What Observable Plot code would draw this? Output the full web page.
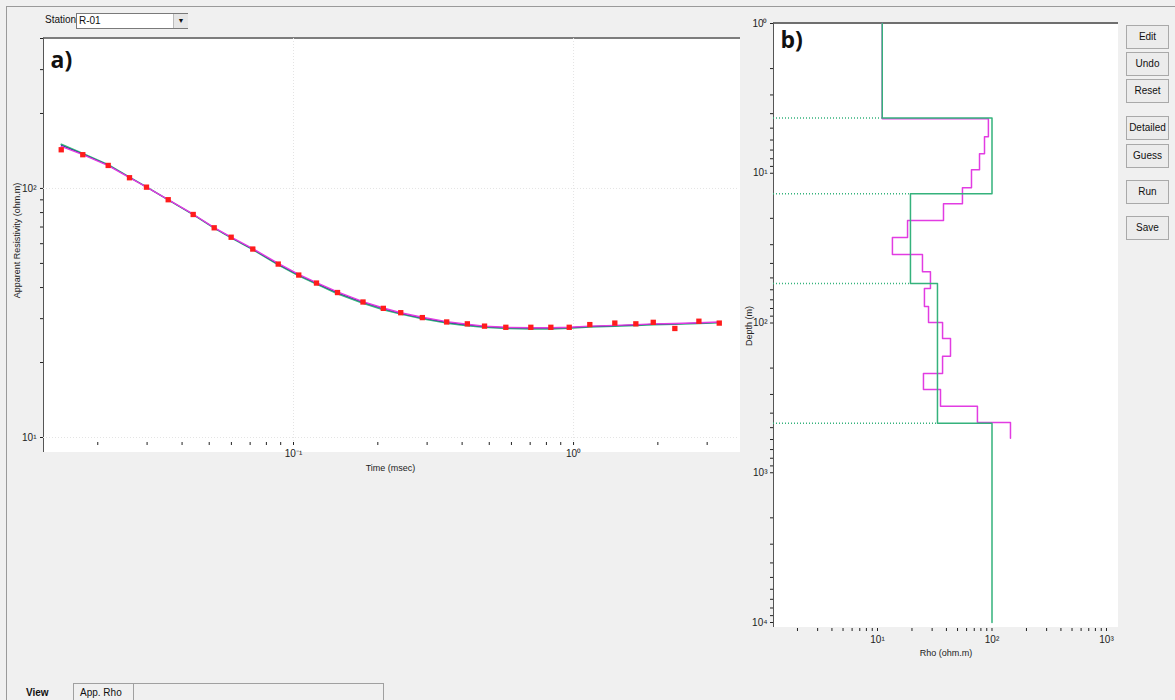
<!DOCTYPE html>
<html><head><meta charset="utf-8">
<script src="https://cdn.jsdelivr.net/npm/d3@7"></script>
<script src="https://cdn.jsdelivr.net/npm/@observablehq/plot@0.6"></script>
<style>
html,body{margin:0;padding:0;background:#f0f0f0;}
#win{position:relative;width:1175px;height:700px;background:#f0f0f0;overflow:hidden;font-family:"Liberation Sans",Arial,sans-serif;color:#111;}
.abs{position:absolute;}
.btn{position:absolute;left:1126px;width:43px;border:1px solid #a9a9a9;background:#ececec;font-size:10px;line-height:22px;text-align:center;box-sizing:border-box;height:24px;}
svg{position:absolute;}
</style></head>
<body>
<div id="win">
  <div class="abs" style="left:6px;top:6px;width:1169px;height:1px;background:#9a9a9a"></div>
  <div class="abs" style="left:6px;top:6px;width:1px;height:694px;background:#9a9a9a"></div>
  <div class="abs" style="left:45px;top:14px;font-size:10px;">Station</div>
  <div class="abs" style="left:76px;top:13px;width:112px;height:16px;border:1px solid #7a7a7a;background:#fff;box-sizing:border-box;font-size:10px;line-height:14px;padding-left:2px;">R-01</div>
  <div class="abs" style="left:173px;top:14px;width:14px;height:14px;background:#e6e6e6;border-left:1px solid #bbb;font-size:7px;line-height:14px;text-align:center;">&#9660;</div>
  <div class="abs" style="left:43px;top:37px;width:697px;height:415px;background:#fff;border-top:2px solid #7d7d7d;border-left:1px solid #555;box-sizing:border-box;"></div>
  <div class="abs" style="left:773px;top:22px;width:345px;height:605px;background:#fff;border-top:2px solid #6f6f6f;border-left:1px solid #555;box-sizing:border-box;"></div>
  <div class="btn" style="top:25px">Edit</div>
  <div class="btn" style="top:52px">Undo</div>
  <div class="btn" style="top:79px">Reset</div>
  <div class="btn" style="top:116px">Detailed</div>
  <div class="btn" style="top:144px">Guess</div>
  <div class="btn" style="top:180px">Run</div>
  <div class="btn" style="top:216px">Save</div>
  <div class="abs" style="left:73px;top:683px;width:310px;height:1px;background:#a0a0a0"></div>
  <div class="abs" style="left:73px;top:683px;width:1px;height:17px;background:#a0a0a0"></div>
  <div class="abs" style="left:133px;top:683px;width:1px;height:17px;background:#a0a0a0"></div>
  <div class="abs" style="left:383px;top:683px;width:1px;height:17px;background:#a0a0a0"></div>
  <div class="abs" style="left:26px;top:687px;font-size:10px;font-weight:bold;">View</div>
  <div class="abs" style="left:80px;top:687px;font-size:10px;">App. Rho</div>
  <div id="chartA"></div>
  <div id="chartB"></div>
</div>
<script>
// ---------- Panel a) : apparent resistivity sounding curve ----------
const timeMs = [0.01481, 0.01768, 0.02179, 0.02596, 0.02985, 0.03569, 0.04383, 0.05209,
  0.05989, 0.07155, 0.08819, 0.1044, 0.1208, 0.1436, 0.1771, 0.2093,
  0.2415, 0.2884, 0.3524, 0.4176, 0.4810, 0.5730, 0.7038, 0.8297,
  0.9651, 1.143, 1.404, 1.669, 1.926, 2.300, 2.803, 3.314];
const rhoObserved = [143, 136.6, 123.7, 110.4, 101.2, 90.1, 78.6, 69.5,
  63.7, 57.1, 49.7, 44.9, 41.7, 38.2, 35.0, 33.0,
  31.7, 30.3, 29.1, 28.6, 28.0, 27.7, 27.7, 27.7,
  27.7, 28.4, 28.8, 28.6, 29.0, 27.4, 29.3, 28.8];
const rhoFitGreen = [150.5, 138, 124.5, 111, 101.5, 90, 78.5, 69.3,
  63.3, 56.8, 49.4, 44.6, 41.3, 37.8, 34.6, 32.6,
  31.3, 30.0, 28.8, 28.1, 27.7, 27.4, 27.3, 27.3,
  27.5, 27.8, 28.0, 28.2, 28.4, 28.5, 28.7, 28.9];
const rhoFitBlue = [149, 137.5, 124, 110.8, 101.3, 90, 78.6, 69.4,
  63.5, 57.0, 49.6, 44.9, 41.6, 38.1, 34.9, 32.9,
  31.5, 30.2, 29.0, 28.3, 27.9, 27.6, 27.5, 27.5,
  27.6, 27.9, 28.1, 28.3, 28.5, 28.6, 28.8, 29.0];
const rhoFitPink = [147.5, 136.8, 123.4, 110.5, 101.2, 90.1, 78.8, 69.6,
  63.7, 57.3, 50.0, 45.2, 41.9, 38.4, 35.1, 33.1,
  31.7, 30.4, 29.2, 28.5, 28.0, 27.7, 27.6, 27.6,
  27.7, 28.0, 28.2, 28.4, 28.6, 28.7, 28.9, 29.1];
const timeDomain = [0.0128, 3.85];
const rhoADomain = [10, 400];
const timeTicks = [0.1, 1];
const timeMinorTicks = [0.02,0.03,0.04,0.05,0.06,0.07,0.08,0.09,0.2,0.3,0.4,0.5,0.6,0.7,0.8,0.9,2,3];
const rhoATicks = [10, 100];
const rhoAMinorTicks = [20,30,40,50,60,70,80,90,200,300,400];

// ---------- Panel b) : layered models ----------
const depthTop = 1;
const layerRhoGreen = [11, 100, 19.4, 33.4, 100];
const layerBottomGreen = [4.27, 13.7, 54.5, 468, 10000];
const layerRhoPink = [11, 93, 86, 77.8, 66.2, 55.2, 37.7, 18.3, 13.5, 24.7,
  29.0, 25.7, 27.9, 37.0, 43.4, 37.0, 25.2, 35.5, 74.6, 145];
const layerBottomPink = [4.33, 5.71, 7.41, 9.48, 12.5, 16.0, 20.7, 26.9, 34.9, 45.4,
  58.9, 77.6, 99.3, 127, 167, 217, 278, 360, 461, 589];
const rhoBDomain = [1.235, 1273];
const depthDomain = [1, 10000];
const rhoBTicks = [10, 100, 1000];
const rhoBMinorTicks = [2,3,4,5,6,7,8,9,20,30,40,50,60,70,80,90,200,300,400,500,600,700,800,900];
const depthTicks = [1, 10, 100, 1000, 10000];
const depthMinorTicks = [2,3,4,5,6,7,8,9,20,30,40,50,60,70,80,90,200,300,400,500,600,700,800,900,
  2000,3000,4000,5000,6000,7000,8000,9000];

const GREEN = "#35b27c", PINK = "#e23ce2", BLUE = "#27308a", RED = "#ff1c1c";

const supMap = {"-":"\u207B","0":"\u2070","1":"\u00B9","2":"\u00B2","3":"\u00B3","4":"\u2074","5":"\u2075","6":"\u2076","7":"\u2077","8":"\u2078","9":"\u2079"};
const pow10 = v => "10" + String(Math.round(Math.log10(v))).split("").map(c => supMap[c]).join("");
const blank = () => "";

const curveRows = timeMs.map((t, i) => ({t, obs: rhoObserved[i], g: rhoFitGreen[i], b: rhoFitBlue[i], p: rhoFitPink[i]}));

function steps(rhos, bottoms, top) {
  const pts = []; let d = top;
  rhos.forEach((r, i) => { pts.push({rho: r, depth: d}); pts.push({rho: r, depth: bottoms[i]}); d = bottoms[i]; });
  return pts;
}
const greenSteps = steps(layerRhoGreen, layerBottomGreen, depthTop);
const pinkSteps = steps(layerRhoPink, layerBottomPink, depthTop);
const boundaries = layerBottomGreen.slice(0, -1).map((d, i) => ({depth: d, rho: Math.min(layerRhoGreen[i], layerRhoGreen[i + 1])}));

const baseStyle = {background: "transparent", fontFamily: "'Liberation Sans', Arial, sans-serif", fontSize: "9px", color: "#222", overflow: "visible"};

const chartA = Plot.plot({
  width: 745, height: 490,
  marginLeft: 43, marginRight: 8, marginTop: 38, marginBottom: 48,
  style: baseStyle,
  x: {type: "log", domain: timeDomain},
  y: {type: "log", domain: rhoADomain, insetBottom: 5},
  marks: [
    Plot.ruleX(timeTicks, {stroke: "#e4e4e4", strokeDasharray: "1,2"}),
    Plot.ruleY(rhoATicks, {stroke: "#e4e4e4", strokeDasharray: "1,2"}),
    Plot.axisX(timeTicks, {tickSize: 3, tickPadding: 4, tickFormat: pow10, fontSize: 10, label: null}),
    Plot.axisX([], {label: "Time (msec)", labelAnchor: "center", labelOffset: 28, labelArrow: "none"}),
    Plot.axisX(timeMinorTicks, {tickSize: 3, tickFormat: blank, label: null}),
    Plot.axisY(rhoATicks, {tickSize: 3, tickPadding: 4, tickFormat: pow10, fontSize: 10, label: null}),
    Plot.axisY([], {label: "Apparent Resistivity (ohm.m)", labelAnchor: "center", labelOffset: 30, labelArrow: "none"}),
    Plot.axisY(rhoAMinorTicks, {tickSize: 3, tickFormat: blank, label: null}),
    Plot.line(curveRows, {x: "t", y: "g", stroke: GREEN, strokeWidth: 1.6}),
    Plot.line(curveRows, {x: "t", y: "b", stroke: BLUE, strokeWidth: 1}),
    Plot.line(curveRows, {x: "t", y: "p", stroke: PINK, strokeWidth: 1.4}),
    Plot.dot(curveRows, {x: "t", y: "obs", symbol: "square", r: 3, fill: RED, stroke: null}),
    Plot.text(["a)"], {frameAnchor: "top-left", dx: 7, dy: 13, fontSize: 23, fontWeight: "bold", fontFamily: "'Open Sans', sans-serif", fill: "#111", textAnchor: "start"})
  ]
});
chartA.style.left = "0px"; chartA.style.top = "0px";
document.getElementById("chartA").appendChild(chartA);

const chartB = Plot.plot({
  width: 420, height: 670,
  marginLeft: 53, marginRight: 22, marginTop: 23, marginBottom: 42,
  style: baseStyle,
  x: {type: "log", domain: rhoBDomain},
  y: {type: "log", domain: depthDomain, reverse: true, insetBottom: 6},
  marks: [
    Plot.axisX(rhoBTicks, {tickSize: 3, tickPadding: 4, tickFormat: pow10, fontSize: 10, label: null}),
    Plot.axisX([], {label: "Rho (ohm.m)", labelAnchor: "center", labelOffset: 27, labelArrow: "none"}),
    Plot.axisX(rhoBMinorTicks, {tickSize: 3, tickFormat: blank, label: null}),
    Plot.axisY(depthTicks, {tickSize: 3, tickPadding: 3, tickFormat: pow10, fontSize: 10, label: null}),
    Plot.axisY([], {label: "Depth (m)", labelAnchor: "center", labelOffset: 28, labelArrow: "none"}),
    Plot.axisY(depthMinorTicks, {tickSize: 3, tickFormat: blank, label: null}),
    Plot.ruleY(boundaries, {y: "depth", x1: rhoBDomain[0], x2: "rho", stroke: GREEN, strokeWidth: 1.5, strokeDasharray: "1,2"}),
    Plot.line(pinkSteps, {x: "rho", y: "depth", stroke: PINK, strokeWidth: 1.5}),
    Plot.line(greenSteps, {x: "rho", y: "depth", stroke: GREEN, strokeWidth: 1.5}),
    Plot.text(["b)"], {frameAnchor: "top-left", dx: 7, dy: 8, fontSize: 23, fontWeight: "bold", fontFamily: "'Open Sans', sans-serif", fill: "#111", textAnchor: "start"})
  ]
});
chartB.style.left = "720px"; chartB.style.top = "0px";
document.getElementById("chartB").appendChild(chartB);
</script>
</body></html>
